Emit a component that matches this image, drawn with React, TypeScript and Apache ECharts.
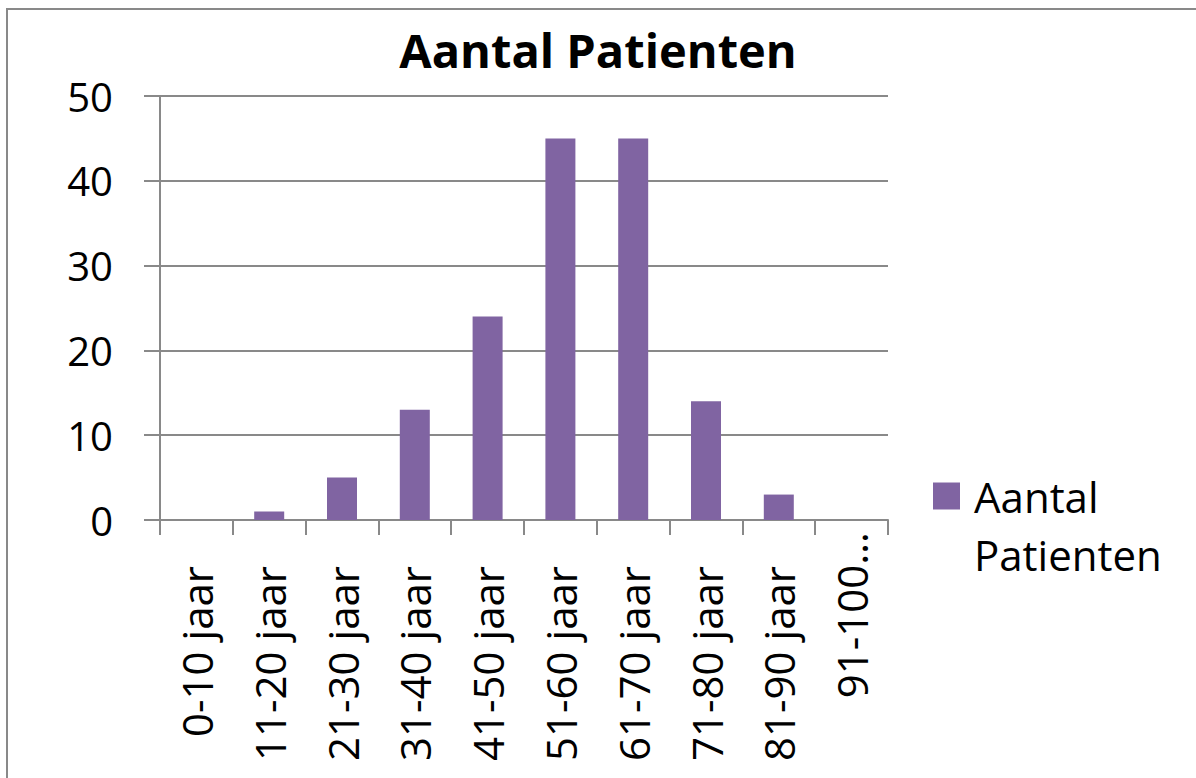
import React, { useEffect, useRef } from "react";
import * as echarts from "echarts";

const categories = [
  "0-10 jaar",
  "11-20 jaar",
  "21-30 jaar",
  "31-40 jaar",
  "41-50 jaar",
  "51-60 jaar",
  "61-70 jaar",
  "71-80 jaar",
  "81-90 jaar",
  "91-100…",
];
const patients = [0, 1, 5, 13, 24, 45, 45, 14, 3, 0];
const seriesName = "Aantal Patienten";
const titleText = "Aantal Patienten";
const legendLines = ["Aantal", "Patienten"];

const FONT = "'Open Sans', 'Noto Sans', sans-serif";
const GRAY = "#898989";

export default function App() {
  const ref = useRef<HTMLDivElement>(null);
  useEffect(() => {
    if (!ref.current) return;
    const chart = echarts.init(ref.current, undefined, { renderer: "svg" });
    const lastIdx = categories.length - 1;
    chart.setOption({
      animation: false,
      backgroundColor: "#ffffff",
      textStyle: { fontFamily: FONT, color: "#000" },
      title: {
        text: titleText,
        left: "center",
        top: 21,
        textStyle: { fontFamily: FONT, fontSize: 47, fontWeight: "bold", color: "#000" },
      },
      graphic: [
        {
          type: "rect",
          shape: { x: 7, y: 9, width: 1400, height: 1000 },
          style: { fill: "none", stroke: GRAY, lineWidth: 2 },
          silent: true,
        },
      ],
      legend: {
        left: 933,
        top: 409,
        padding: 0,
        itemWidth: 27,
        itemHeight: 27,
        icon: "rect",
        formatter: () => "\n" + legendLines.join("\n"),
        textStyle: {
          fontFamily: FONT,
          fontSize: 42,
          lineHeight: 58,
          color: "#000",
          padding: [0, 0, 0, 9],
        },
        data: [seriesName],
      },
      grid: { left: 160, right: 308, top: 96, bottom: 258, containLabel: false },
      xAxis: {
        type: "category",
        data: categories,
        axisLine: { show: true, lineStyle: { color: GRAY, width: 2 } },
        axisTick: { show: true, length: 15, interval: 0, lineStyle: { color: GRAY, width: 2 } },
        axisLabel: {
          interval: 0,
          rotate: 90,
          margin: 12,
          fontFamily: FONT,
          fontSize: 42,
          color: "#000",
          formatter: (v: string, i: number) => (i === lastIdx ? `{q|${v}}` : `{p|${v}}`),
          rich: {
            p: { fontFamily: FONT, fontSize: 42, color: "#000", padding: [0, 34, 0, 0] },
            q: { fontFamily: FONT, fontSize: 42, color: "#000" },
          },
        },
      },
      yAxis: {
        type: "value",
        min: 0,
        max: 50,
        interval: 10,
        axisLine: { show: true, lineStyle: { color: GRAY, width: 2 } },
        axisTick: { show: true, length: 16, lineStyle: { color: GRAY, width: 2 } },
        axisLabel: { margin: 47, fontFamily: FONT, fontSize: 40, color: "#000" },
        splitLine: { show: true, lineStyle: { color: GRAY, width: 2 } },
      },
      series: [
        {
          name: seriesName,
          type: "bar",
          data: patients,
          barWidth: 30,
          itemStyle: { color: "#8064A2" },
        },
      ],
    });
    return () => chart.dispose();
  }, []);
  return (
    <div
      ref={ref}
      style={{ position: "absolute", left: 0, top: 0, width: 1196, height: 778 }}
    />
  );
}
